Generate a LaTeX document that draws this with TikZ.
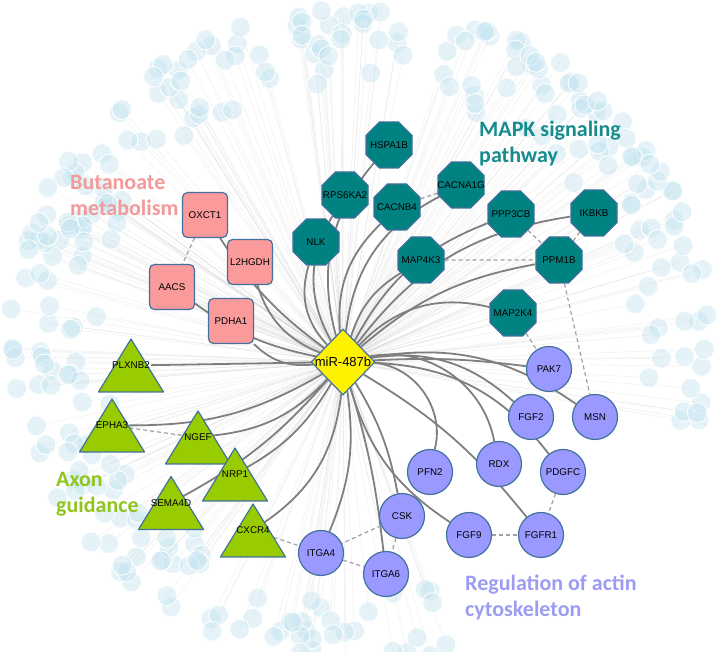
\documentclass[tikz,border=0pt]{standalone}
\usepackage{fontspec}
\setmainfont{Liberation Sans}
\newfontfamily\titlefont{Carlito}[BoldFont={Carlito Bold}]
\usetikzlibrary{shapes.geometric}
\pgfdeclarelayer{bg}
\pgfdeclarelayer{edges}
\pgfsetlayers{bg,edges,main}
\definecolor{sqfill}{HTML}{FA9A9A}
\definecolor{octfill}{HTML}{008282}
\definecolor{cirfill}{HTML}{9999FF}
\definecolor{trifill}{HTML}{99CC00}
\definecolor{outl}{HTML}{41719C}
\definecolor{edgegray}{HTML}{7F7F7F}
\definecolor{dashgray}{HTML}{A0A0A0}
\definecolor{bubble}{HTML}{BFE2EF}
\definecolor{tButa}{HTML}{F29999}
\definecolor{tMapk}{HTML}{168C8C}
\definecolor{tAxon}{HTML}{92C41E}
\definecolor{tReg}{HTML}{9C9CF2}
\newcommand\zw[1]{\makebox[0pt]{#1}}
\tikzset{
  gene/.style={draw=outl, line width=1.2pt, inner sep=0pt, text=black,
    font=\fontsize{9.8}{11}\selectfont},
  sq/.style={gene, rectangle, rounded corners=5pt, fill=sqfill, minimum size=45pt},
  oct/.style={gene, regular polygon, regular polygon sides=8, minimum size=49.8pt, fill=octfill},
  cir/.style={gene, circle, minimum size=45pt, fill=cirfill},
  mir/.style={gene, diamond, fill=yellow, minimum width=64pt, minimum height=66pt,
    font=\fontsize{13}{15}\selectfont},
  trishape/.style={fill=trifill, draw=outl, line width=1.2pt, line join=round},
  trilab/.style={inner sep=1pt, text=black, font=\fontsize{9.8}{11}\selectfont},
  tgt/.style={draw=edgegray, line width=1.8pt},
  ppi/.style={draw=dashgray, line width=1.2pt, dash pattern=on 4pt off 3pt},
  grouptitle/.style={font=\titlefont\bfseries\fontsize{22}{26}\selectfont, align=left,
    inner sep=0pt, anchor=north west},
  ray/.style={draw=gray, line width=0.6pt, opacity=0.11},
  bub/.style={fill=bubble, fill opacity=0.4, draw=white, line width=0.8pt}
}
\newcommand\gtri[3]{%
  \draw[trishape] (#2-32.5,#3-26.5) -- (#2+32.5,#3-26.5) -- (#2,#3+26.5) -- cycle;
  \node[trilab] (#1) at (#2,#3) {#1};}
\begin{document}
\begin{tikzpicture}[x=1pt,y=1pt]
\useasboundingbox (0,0) rectangle (725,652);
% central miRNA
\node[mir] (miR) at (343,290) {\zw{miR-487b}};
% Butanoate metabolism
\node[sq] (OXCT1) at (205,437) {OXCT1};
\node[sq] (L2HGDH) at (250,390) {L2HGDH};
\node[sq] (AACS) at (172,365) {AACS};
\node[sq] (PDHA1) at (231,331) {PDHA1};
% MAPK
\node[oct] (HSPA1B) at (389,507) {\zw{HSPA1B}};
\node[oct] (RPS6KA2) at (345,457) {\zw{RPS6KA2}};
\node[oct] (CACNB4) at (397,445) {\zw{CACNB4}};
\node[oct] (CACNA1G) at (461,467) {\zw{CACNA1G}};
\node[oct] (NLK) at (316,410) {\zw{NLK}};
\node[oct] (PPP3CB) at (511,438) {\zw{PPP3CB}};
\node[oct] (IKBKB) at (594,439) {\zw{IKBKB}};
\node[oct] (PPM1B) at (559,392) {\zw{PPM1B}};
\node[oct] (MAP4K3) at (421,392) {\zw{MAP4K3}};
\node[oct] (MAP2K4) at (513,339) {\zw{MAP2K4}};
% actin cytoskeleton
\node[cir] (PAK7) at (549,283) {\zw{PAK7}};
\node[cir] (MSN) at (595,235) {\zw{MSN}};
\node[cir] (FGF2) at (531,235) {\zw{FGF2}};
\node[cir] (RDX) at (499,188) {\zw{RDX}};
\node[cir] (PDGFC) at (563,180) {\zw{PDGFC}};
\node[cir] (PFN2) at (430,180) {\zw{PFN2}};
\node[cir] (CSK) at (402,136) {\zw{CSK}};
\node[cir] (FGF9) at (469,117) {\zw{FGF9}};
\node[cir] (FGFR1) at (541,117) {\zw{FGFR1}};
\node[cir] (ITGA4) at (321,99) {\zw{ITGA4}};
\node[cir] (ITGA6) at (386,78) {\zw{ITGA6}};
% axon guidance
\gtri{PLXNB2}{131}{286.5}
\gtri{EPHA3}{112}{226.5}
\gtri{NGEF}{198}{214.5}
\gtri{NRP1}{235}{177.5}
\gtri{SEMA4D}{171}{149}
\gtri{CXCR4}{253}{121.5}
% group titles
\node[grouptitle, text=tButa] (tbuta) at (70,476.5) {Butanoate\\metabolism};
\node[grouptitle, text=tMapk] (tmapk) at (479,531) {MAPK signaling\\pathway};
\node[grouptitle, text=tAxon] (taxon) at (56,180) {Axon\\guidance};
\node[grouptitle, text=tReg] (treg) at (465,77) {Regulation of actin\\cytoskeleton};
% edges
\begin{pgfonlayer}{edges}
\foreach \t/\b in {PDHA1/25, AACS/12, L2HGDH/25, OXCT1/10, NLK/30, RPS6KA2/30,
  CACNB4/25, CACNA1G/28, MAP4K3/20, PPP3CB/20, IKBKB/22, PPM1B/15, MAP2K4/30,
  PAK7/5, MSN/22, FGF2/25, PDGFC/25, RDX/45, PFN2/50, FGFR1/10, CSK/10, FGF9/-20,
  ITGA6/5, ITGA4/15, CXCR4/25, NRP1/15, SEMA4D/10, NGEF/20, EPHA3/15, PLXNB2/0}
  \draw[tgt] (miR) to[bend left=\b] (\t);
\draw[tgt] (miR) to[out=105,in=-130] (HSPA1B);
\foreach \a/\c in {OXCT1/AACS, CACNB4/CACNA1G, PPP3CB/PPM1B, IKBKB/PPM1B,
  MAP4K3/PPM1B, PPM1B/MSN, MAP2K4/PAK7, PDGFC/FGFR1, FGF9/FGFR1, CSK/ITGA4,
  CSK/ITGA6, ITGA4/ITGA6, CXCR4/ITGA4, EPHA3/NGEF}
  \draw[ppi] (\a) -- (\c);
\end{pgfonlayer}
% background targets
\begin{pgfonlayer}{bg}
\pgfmathsetseed{7}
\foreach \i in {1,...,330}{
  \pgfmathsetmacro\ang{rnd*360}
  \pgfmathsetmacro\rr{0.72+0.28*sqrt(rnd)}
  \pgfmathsetmacro\px{362+352*\rr*cos(\ang)}
  \pgfmathsetmacro\py{317+330*\rr*sin(\ang)}
  \pgfmathtruncatemacro\keep{((\ang>285)&&(\ang<340))?0:1}
  \ifnum\keep=1 \draw[ray] (miR.center) -- (\px,\py); \fi
}
\pgfmathsetseed{7}
\foreach \i in {1,...,330}{
  \pgfmathsetmacro\ang{rnd*360}
  \pgfmathsetmacro\rr{0.72+0.28*sqrt(rnd)}
  \pgfmathsetmacro\px{362+352*\rr*cos(\ang)}
  \pgfmathsetmacro\py{317+330*\rr*sin(\ang)}
  \pgfmathtruncatemacro\keep{((\ang>285)&&(\ang<340))?0:1}
  \ifnum\keep=1 \path[bub] (\px,\py) circle[radius=10]; \fi
}
\end{pgfonlayer}
\end{tikzpicture}
\end{document}
